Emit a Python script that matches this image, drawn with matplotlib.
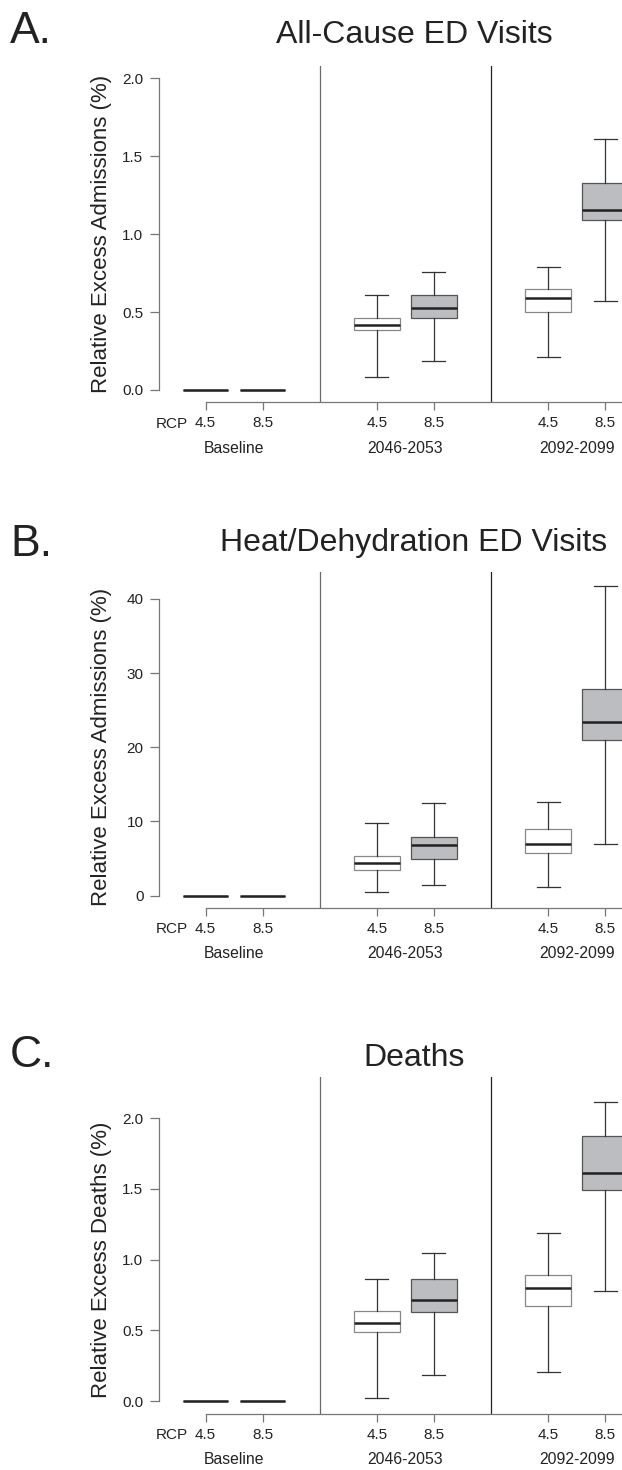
import matplotlib
matplotlib.use("Agg")
import matplotlib.pyplot as plt
from matplotlib.transforms import blended_transform_factory

plt.rcParams['font.family'] = ['Liberation Sans', 'DejaVu Sans']

# Data: one box per scenario
positions = [1, 2, 4, 5, 7, 8]
tick_labels = ["4.5", "8.5", "4.5", "8.5", "4.5", "8.5"]
group_names = ["Baseline", "2046-2053", "2092-2099"]
group_centers = [1.5, 4.5, 7.5]
is_rcp85 = [False, True, False, True, False, True]

# panel A: all-cause ED visits
a_whislo = [0, 0, 0.086, 0.184, 0.212, 0.568]
a_q1 = [0, 0, 0.382, 0.461, 0.500, 1.093]
a_med = [0, 0, 0.414, 0.529, 0.590, 1.156]
a_q3 = [0, 0, 0.461, 0.611, 0.645, 1.327]
a_whishi = [0, 0, 0.608, 0.755, 0.789, 1.614]

# panel B: heat/dehydration ED visits
b_whislo = [0, 0, 0.49, 1.44, 1.17, 6.9]
b_q1 = [0, 0, 3.42, 5.0, 5.76, 21.0]
b_med = [0, 0, 4.36, 6.89, 7.02, 23.42]
b_q3 = [0, 0, 5.35, 7.88, 8.92, 27.84]
b_whishi = [0, 0, 9.81, 12.47, 12.65, 41.8]

# panel C: deaths
c_whislo = [0, 0, 0.023, 0.188, 0.207, 0.776]
c_q1 = [0, 0, 0.488, 0.632, 0.672, 1.489]
c_med = [0, 0, 0.550, 0.712, 0.800, 1.614]
c_q3 = [0, 0, 0.637, 0.866, 0.894, 1.876]
c_whishi = [0, 0, 0.861, 1.050, 1.185, 2.117]

panels = [
    dict(letter="A.", title="All-Cause ED Visits", ylabel="Relative Excess Admissions (%)",
         stats=(a_whislo, a_q1, a_med, a_q3, a_whishi), yticks=[0, 0.5, 1.0, 1.5, 2.0],
         yfmt="{:.1f}", ymax=2.0, top=66, title_y=43.3, letter_y=43.3),
    dict(letter="B.", title="Heat/Dehydration ED Visits", ylabel="Relative Excess Admissions (%)",
         stats=(b_whislo, b_q1, b_med, b_q3, b_whishi), yticks=[0, 10, 20, 30, 40],
         yfmt="{:.0f}", ymax=42.0, top=571.7, title_y=550.7, letter_y=556.5),
    dict(letter="C.", title="Deaths", ylabel="Relative Excess Deaths (%)",
         stats=(c_whislo, c_q1, c_med, c_q3, c_whishi), yticks=[0, 0.5, 1.0, 1.5, 2.0],
         yfmt="{:.1f}", ymax=2.2, top=1077.3, title_y=1066, letter_y=1067),
]

W, H = 622, 1470
fig = plt.figure(figsize=(W / 100, H / 100), dpi=100)

xlo, xhi = 0.18, 8.82
ax_left, ax_w, ax_h = 158.7, 493.3, 336.4

for p in panels:
    ax = fig.add_axes([ax_left / W, 1 - (p["top"] + ax_h) / H, ax_w / W, ax_h / H])
    lo, q1, med, q3, hi = p["stats"]
    stats = []
    for i in range(len(positions)):
        stats.append(dict(whislo=lo[i], q1=q1[i], med=med[i], q3=q3[i], whishi=hi[i], fliers=[]))
    bp = ax.bxp(stats, positions=positions, widths=0.8, capwidths=0.4, patch_artist=True,
                showfliers=False,
                medianprops=dict(color="#222222", linewidth=1.8, solid_capstyle="butt"),
                whiskerprops=dict(color="#333333", linewidth=0.9),
                capprops=dict(color="#333333", linewidth=0.9),
                boxprops=dict(linewidth=0.9))
    for box, dark in zip(bp["boxes"], is_rcp85):
        box.set_facecolor("#bcbdc0" if dark else "white")
        box.set_edgecolor("#555555" if dark else "#888888")
    # zero-width baseline boxes: hide caps so only the median line shows
    for i in range(2):
        bp["caps"][2 * i].set_visible(False)
        bp["caps"][2 * i + 1].set_visible(False)
        bp["boxes"][i].set_edgecolor("#222222")

    ax.axvline(3, color="#6a6a6a", linewidth=0.9)
    ax.axvline(6, color="#222222", linewidth=0.9)

    ym = p["ymax"]
    ax.set_xlim(xlo, xhi)
    ax.set_ylim(-0.04 * ym, 1.04 * ym)
    ax.set_xticks(positions)
    ax.set_xticklabels(tick_labels)
    ax.set_yticks(p["yticks"])
    ax.set_yticklabels([p["yfmt"].format(v) for v in p["yticks"]])

    for s in ["top", "right"]:
        ax.spines[s].set_visible(False)
    ax.spines["left"].set_bounds(0, p["yticks"][-1])
    ax.spines["bottom"].set_bounds(1, xhi)
    for s in ["left", "bottom"]:
        ax.spines[s].set_color("#777777")
        ax.spines[s].set_linewidth(0.9)
    ax.tick_params(axis="both", colors="#777777", labelcolor="#222222", labelsize=11,
                   length=5.5, width=0.9)
    ax.tick_params(axis="y", length=6.2, pad=4.8)
    ax.tick_params(axis="x", pad=4.5)

    ax.annotate("RCP", xy=(1, 0), xycoords=ax.get_xaxis_transform(),
                xytext=(-13, -10.2), textcoords="offset points",
                ha="right", va="top", fontsize=11, color="#222222")

    for g, c in zip(group_names, group_centers):
        ax.text(c, -50.3 / ax_h, g, transform=ax.get_xaxis_transform(),
                ha="center", va="baseline", fontsize=11.3, color="#222222")

    tr = blended_transform_factory(ax.transAxes, ax.transData)
    ax.text((101.5 - ax_left) / ax_w, p["yticks"][-1] / 2, p["ylabel"], transform=tr,
            rotation=90, ha="center", va="center", fontsize=16, color="#222222")

    fig.text(414 / W, 1 - p["title_y"] / H, p["title"], ha="center", va="baseline",
             fontsize=23, color="#222222")
    fig.text(10 / W, 1 - p["letter_y"] / H, p["letter"], ha="left", va="baseline",
             fontsize=32, color="#222222")

fig.savefig("out.png", dpi=100)
